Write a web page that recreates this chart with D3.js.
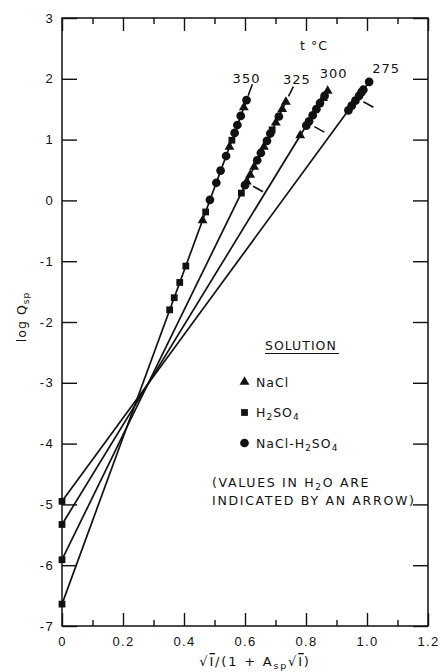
<!DOCTYPE html>
<html lang="en">
<head>
<meta charset="UTF-8" />
<title>log Qsp vs ionic strength function</title>
<script src="https://d3js.org/d3.v7.min.js"></script>
<style>
    body { margin: 0; background: #fff; }
    svg { display: block; font-family: "DejaVu Sans", sans-serif; }
    .axis text { font-size: 13px; letter-spacing: 1.3px; fill: #111; }
    .axis line { stroke: #111; stroke-width: 1.4; }
    .axis path { display: none; }
    .lbl { font-size: 12.5px; letter-spacing: 1px; fill: #111; }
</style>
</head>
<body>
<svg id="chart" width="440" height="672"></svg>
<script>
    // fitted lines, one per temperature
    const temps = ["275", "300", "325", "350"];
    const intercepts = [-4.95, -5.33, -5.91, -6.64];
    const slopes = [6.85, 8.19, 10.26, 13.7];

    // points: [x, log Qsp, solution, in water]
    const pts275 = [
        [0, -4.95, "H2SO4"],
        [0.939, 1.48, "mix"],
        [0.950, 1.56, "mix"],
        [0.962, 1.64, "mix", true],
        [0.974, 1.72, "mix"],
        [0.982, 1.78, "mix"],
        [0.988, 1.82, "mix"],
        [1.007, 1.95, "mix"]
    ];
    const pts300 = [
        [0, -5.33, "H2SO4"],
        [0.781, 1.07, "NaCl"],
        [0.801, 1.23, "mix", true],
        [0.810, 1.30, "mix"],
        [0.822, 1.40, "mix"],
        [0.834, 1.50, "mix"],
        [0.846, 1.60, "mix"],
        [0.856, 1.68, "NaCl"],
        [0.861, 1.72, "mix"],
        [0.871, 1.80, "NaCl"]
    ];
    const pts325 = [
        [0, -5.91, "H2SO4"],
        [0.588, 0.12, "H2SO4"],
        [0.600, 0.25, "mix", true],
        [0.606, 0.31, "NaCl"],
        [0.617, 0.42, "NaCl"],
        [0.630, 0.55, "NaCl"],
        [0.640, 0.66, "mix"],
        [0.652, 0.78, "mix"],
        [0.662, 0.88, "NaCl"],
        [0.672, 0.98, "mix"],
        [0.683, 1.10, "mix"],
        [0.689, 1.16, "H2SO4"],
        [0.701, 1.28, "NaCl"],
        [0.711, 1.38, "mix"],
        [0.722, 1.50, "NaCl"],
        [0.734, 1.62, "NaCl"]
    ];
    const pts350 = [
        [0, -6.64, "H2SO4"],
        [0.353, -1.80, "H2SO4"],
        [0.368, -1.60, "H2SO4"],
        [0.386, -1.35, "H2SO4"],
        [0.406, -1.08, "H2SO4"],
        [0.461, -0.33, "NaCl"],
        [0.471, -0.19, "H2SO4"],
        [0.485, 0.01, "mix"],
        [0.506, 0.29, "mix"],
        [0.520, 0.49, "mix"],
        [0.538, 0.73, "mix"],
        [0.549, 0.88, "NaCl"],
        [0.557, 0.99, "H2SO4"],
        [0.566, 1.11, "mix"],
        [0.575, 1.24, "mix"],
        [0.586, 1.39, "mix"],
        [0.596, 1.53, "NaCl"],
        [0.605, 1.65, "mix"]
    ];
    const allPts = [pts275, pts300, pts325, pts350];

    const xMajor = [0, 0.2, 0.4, 0.6, 0.8, 1.0, 1.2];
    const xMinor = [0.1, 0.3, 0.5, 0.7, 0.9, 1.1];
    const xTickLabels = ["0", "0.2", "0.4", "0.6", "0.8", "1.0", "1.2"];
    const yMajor = [3, 2, 1, 0, -1, -2, -3, -4, -5, -6, -7];
    const yTickLabels = ["3", "2", "1", "0", "-1", "-2", "-3", "-4", "-5", "-6", "-7"];

    const svg = d3.select("#chart");
    svg.append("rect").attr("width", 440).attr("height", 672).attr("fill", "#fff");

    const x = d3.scaleLinear().domain([0, 1.2]).range([62, 428]);
    const y = d3.scaleLinear().domain([-7, 3]).range([626, 18]);

    // axes, ticks pointing inwards
    svg.append("g").attr("class", "axis").attr("transform", "translate(0,626)")
        .call(d3.axisBottom(x).tickValues(xMajor).tickFormat((d, i) => xTickLabels[i])
            .tickSizeInner(-13).tickSizeOuter(0).tickPadding(10.5));
    svg.append("g").attr("class", "axis").attr("transform", "translate(0,626)")
        .call(d3.axisBottom(x).tickValues(xMinor).tickFormat("").tickSizeInner(-6).tickSizeOuter(0));
    svg.append("g").attr("class", "axis").attr("transform", "translate(0,18)")
        .call(d3.axisTop(x).tickValues(xMajor).tickFormat("").tickSizeInner(-13).tickSizeOuter(0));
    svg.append("g").attr("class", "axis").attr("transform", "translate(0,18)")
        .call(d3.axisTop(x).tickValues(xMinor).tickFormat("").tickSizeInner(-6).tickSizeOuter(0));
    svg.append("g").attr("class", "axis").attr("transform", "translate(62,0)")
        .call(d3.axisLeft(y).tickValues(yMajor).tickFormat((d, i) => yTickLabels[i])
            .tickSizeInner(-15).tickSizeOuter(0).tickPadding(8));
    svg.append("g").attr("class", "axis").attr("transform", "translate(428,0)")
        .call(d3.axisRight(y).tickValues(yMajor).tickFormat("").tickSizeInner(-15).tickSizeOuter(0));

    svg.append("rect").attr("x", 62).attr("y", 18).attr("width", 366).attr("height", 608)
        .attr("fill", "none").attr("stroke", "#111").attr("stroke-width", 1.5);

    // fitted lines
    const line = d3.line().x(d => x(d[0])).y(d => y(d[1]));
    allPts.forEach((pts, i) => {
        const xe = pts[pts.length - 1][0];
        svg.append("path")
            .attr("d", line([[0, intercepts[i]], [xe, intercepts[i] + slopes[i] * xe]]))
            .attr("fill", "none").attr("stroke", "#111").attr("stroke-width", 1.7);
    });

    // markers
    const shapes = {
        NaCl: d3.symbol().type(d3.symbolTriangle).size(42),
        H2SO4: d3.symbol().type(d3.symbolSquare).size(46),
        mix: d3.symbol().type(d3.symbolCircle).size(60)
    };
    allPts.forEach(pts => {
        pts.forEach(p => {
            svg.append("path").attr("d", shapes[p[2]]())
                .attr("transform", `translate(${x(p[0])},${y(p[1])})`)
                .attr("fill", "#111");
            if (p[3]) {
                svg.append("line")
                    .attr("x1", x(p[0]) + 8).attr("y1", y(p[1]) + 1)
                    .attr("x2", x(p[0]) + 18).attr("y2", y(p[1]) + 6.5)
                    .attr("stroke", "#111").attr("stroke-width", 1.6);
            }
        });
    });

    // temperature labels
    const labelOff = [[17, -9], [6, -13], [11, -18], [0, -17]];
    allPts.forEach((pts, i) => {
        const top = pts[pts.length - 1];
        svg.append("text").attr("class", "lbl").attr("text-anchor", "middle")
            .attr("x", x(top[0]) + labelOff[i][0]).attr("y", y(top[1]) + labelOff[i][1])
            .style("font-size", "13px").text(temps[i]);
    });
    // leader lines on 325 and 350, along the fitted line
    [[2, 1.71, 1.87], [3, 1.72, 1.91]].forEach(([i, y0, y1]) => {
        svg.append("line")
            .attr("x1", x((y0 - intercepts[i]) / slopes[i])).attr("y1", y(y0))
            .attr("x2", x((y1 - intercepts[i]) / slopes[i])).attr("y2", y(y1))
            .attr("stroke", "#111").attr("stroke-width", 1.6);
    });
    svg.append("text").attr("class", "lbl").attr("text-anchor", "middle")
        .attr("x", 314).attr("y", 50).text("t °C");

    // legend
    const leg = svg.append("g");
    leg.append("text").attr("class", "lbl").attr("x", 265).attr("y", 350).text("SOLUTION");
    leg.append("line").attr("x1", 265).attr("x2", 339).attr("y1", 353.5).attr("y2", 353.5)
        .attr("stroke", "#111").attr("stroke-width", 1.2);

    function subText(sel, parts) {
        parts.forEach(([t, sub]) => {
            const ts = sel.append("tspan").text(t);
            if (sub) ts.attr("font-size", "9px").attr("dy", 3);
            else ts.attr("dy", sel.node().childNodes.length > 1 ? -3 : 0);
        });
    }
    const legItems = [
        ["NaCl", [["NaCl"]]],
        ["H2SO4", [["H"], ["2", true], ["SO"], ["4", true]]],
        ["mix", [["NaCl-H"], ["2", true], ["SO"], ["4", true]]]
    ];
    legItems.forEach(([k, parts], i) => {
        const ly = 382 + i * 30.5;
        leg.append("path").attr("d", shapes[k]()).attr("transform", `translate(244.5,${ly})`).attr("fill", "#111");
        const t = leg.append("text").attr("class", "lbl").attr("x", 256).attr("y", ly + 4.5);
        subText(t, parts);
    });

    const n1 = leg.append("text").attr("class", "lbl").attr("x", 212).attr("y", 487)
        .style("letter-spacing", "1.7px");
    subText(n1, [["(VALUES IN H"], ["2", true], ["O ARE"]]);
    leg.append("text").attr("class", "lbl").attr("x", 212).attr("y", 505)
        .style("letter-spacing", "1.7px").text("INDICATED BY AN ARROW)");

    // axis titles
    const yt = svg.append("text").attr("class", "lbl").attr("text-anchor", "middle")
        .attr("transform", "translate(26,317) rotate(-90)");
    subText(yt, [["log Q"], ["sp", true]]);

    const xt = svg.append("text").attr("class", "lbl").attr("text-anchor", "middle")
        .attr("x", 255).attr("y", 666).style("font-size", "13px").style("letter-spacing", "1.8px");
    xt.append("tspan").text("√");
    xt.append("tspan").style("text-decoration", "overline").text("I");
    xt.append("tspan").text("/(1 + A");
    xt.append("tspan").attr("font-size", "9.5px").attr("dy", 3).text("sp");
    xt.append("tspan").attr("dy", -3).text("√");
    xt.append("tspan").style("text-decoration", "overline").text("I");
    xt.append("tspan").text(")");
</script>
</body>
</html>
